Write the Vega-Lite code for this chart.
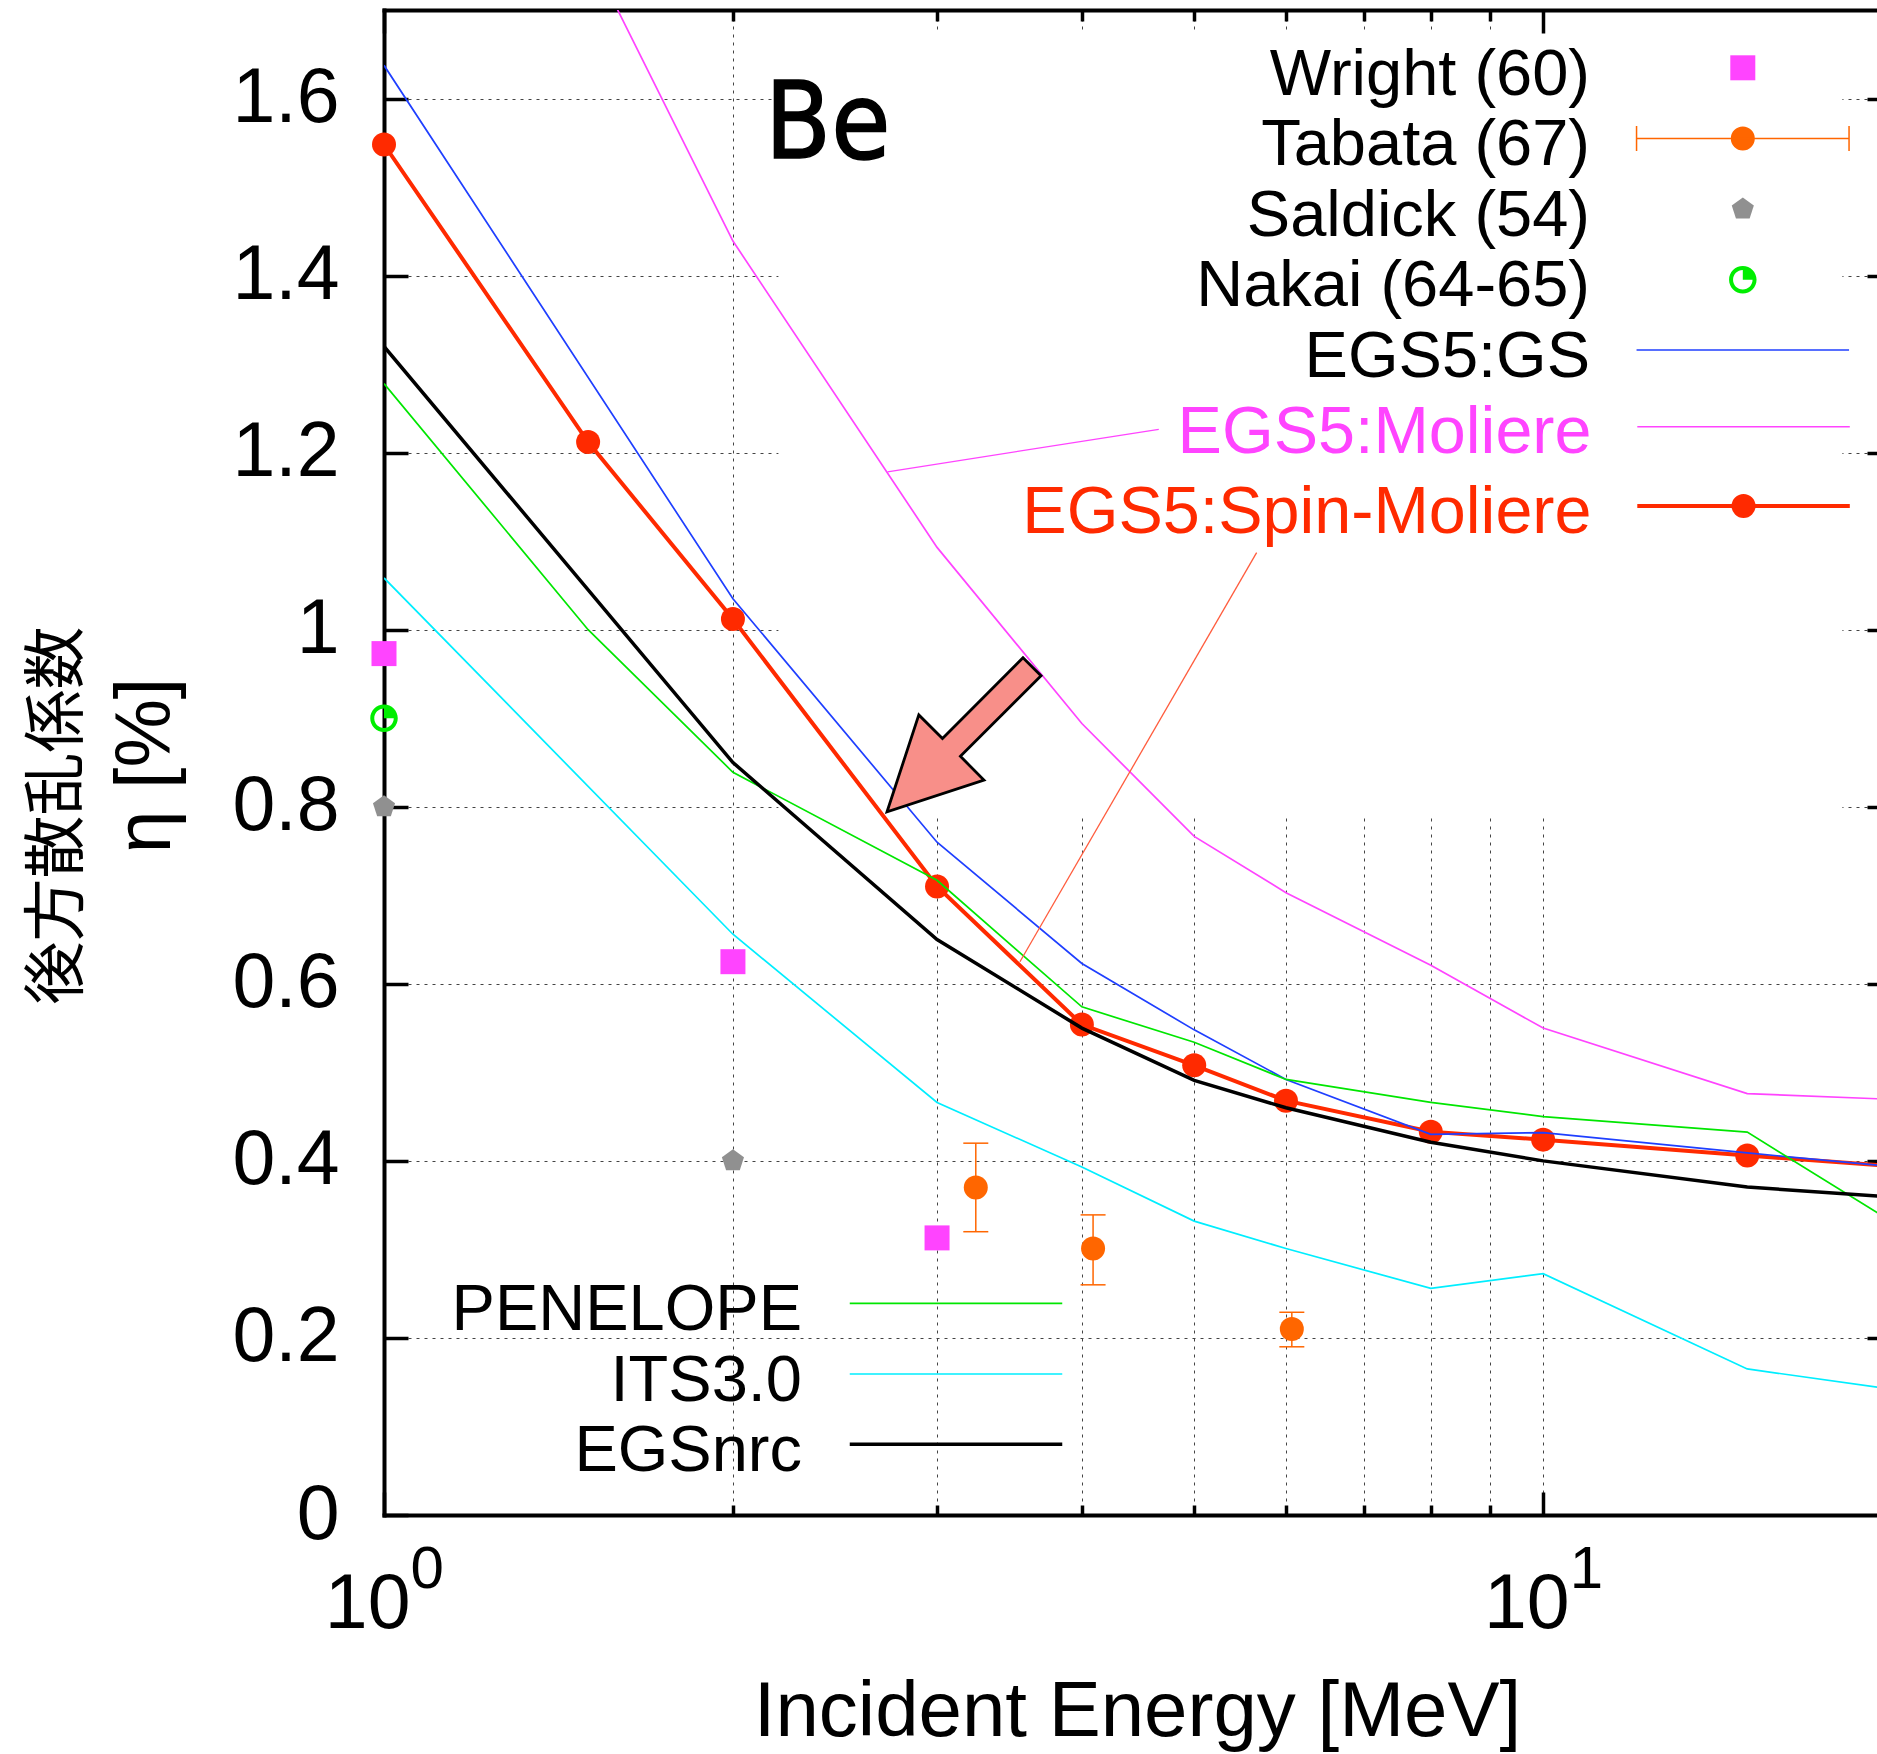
{
  "$schema": "https://vega.github.io/schema/vega-lite/v6.json",
  "width": 1493,
  "height": 1505,
  "autosize": {"type": "none"},
  "padding": {"left": 384, "top": 10, "right": 0, "bottom": 239},
  "background": "white",
  "config": {
    "view": {"stroke": null},
    "axis": {
      "labelFont": "Liberation Sans",
      "titleFont": "Liberation Sans",
      "labelColor": "black",
      "titleColor": "black",
      "titleFontWeight": "normal",
      "tickColor": "black",
      "tickWidth": 3.5,
      "domainColor": "black",
      "domainWidth": 4,
      "domainCap": "square",
      "gridColor": "#444444",
      "gridDash": [3, 5],
      "gridWidth": 1,
      "labelFlush": false,
      "labelOverlap": false
    },
    "legend": {
      "orient": "none",
      "direction": "vertical",
      "padding": 0,
      "rowPadding": 0,
      "labelFont": "Liberation Sans",
      "labelFontSize": 65,
      "labelAlign": "right",
      "labelBaseline": "middle",
      "labelLimit": 2000,
      "symbolSize": 625,
      "symbolOffset": 0
    }
  },
  "datasets": {
    "curves": [
      {"series": "EGS5:GS", "E": 1, "eta": 1.6375},
      {"series": "EGS5:GS", "E": 2, "eta": 1.035},
      {"series": "EGS5:GS", "E": 3, "eta": 0.76},
      {"series": "EGS5:GS", "E": 4, "eta": 0.623},
      {"series": "EGS5:GS", "E": 5, "eta": 0.548},
      {"series": "EGS5:GS", "E": 6, "eta": 0.492},
      {"series": "EGS5:GS", "E": 8, "eta": 0.43},
      {"series": "EGS5:GS", "E": 10, "eta": 0.432},
      {"series": "EGS5:GS", "E": 15, "eta": 0.409},
      {"series": "EGS5:GS", "E": 20, "eta": 0.3935},
      {"series": "EGS5:Moliere", "E": 1.5, "eta": 1.767},
      {"series": "EGS5:Moliere", "E": 2, "eta": 1.439},
      {"series": "EGS5:Moliere", "E": 3, "eta": 1.093},
      {"series": "EGS5:Moliere", "E": 4, "eta": 0.894},
      {"series": "EGS5:Moliere", "E": 5, "eta": 0.7665},
      {"series": "EGS5:Moliere", "E": 6, "eta": 0.703},
      {"series": "EGS5:Moliere", "E": 8, "eta": 0.621},
      {"series": "EGS5:Moliere", "E": 10, "eta": 0.55},
      {"series": "EGS5:Moliere", "E": 15, "eta": 0.476},
      {"series": "EGS5:Moliere", "E": 20, "eta": 0.4695},
      {"series": "EGS5:Spin-Moliere", "E": 1, "eta": 1.548},
      {"series": "EGS5:Spin-Moliere", "E": 1.5, "eta": 1.212},
      {"series": "EGS5:Spin-Moliere", "E": 2, "eta": 1.012},
      {"series": "EGS5:Spin-Moliere", "E": 3, "eta": 0.71},
      {"series": "EGS5:Spin-Moliere", "E": 4, "eta": 0.554},
      {"series": "EGS5:Spin-Moliere", "E": 5, "eta": 0.508},
      {"series": "EGS5:Spin-Moliere", "E": 6, "eta": 0.468},
      {"series": "EGS5:Spin-Moliere", "E": 8, "eta": 0.433},
      {"series": "EGS5:Spin-Moliere", "E": 10, "eta": 0.424},
      {"series": "EGS5:Spin-Moliere", "E": 15, "eta": 0.406},
      {"series": "EGS5:Spin-Moliere", "E": 20, "eta": 0.394},
      {"series": "PENELOPE", "E": 1, "eta": 1.278},
      {"series": "PENELOPE", "E": 1.5, "eta": 1.0},
      {"series": "PENELOPE", "E": 2, "eta": 0.839},
      {"series": "PENELOPE", "E": 3, "eta": 0.717},
      {"series": "PENELOPE", "E": 4, "eta": 0.574},
      {"series": "PENELOPE", "E": 5, "eta": 0.534},
      {"series": "PENELOPE", "E": 6, "eta": 0.492},
      {"series": "PENELOPE", "E": 8, "eta": 0.466},
      {"series": "PENELOPE", "E": 10, "eta": 0.45},
      {"series": "PENELOPE", "E": 15, "eta": 0.4325},
      {"series": "PENELOPE", "E": 20, "eta": 0.331},
      {"series": "ITS3.0", "E": 1, "eta": 1.0585},
      {"series": "ITS3.0", "E": 2, "eta": 0.656},
      {"series": "ITS3.0", "E": 3, "eta": 0.466},
      {"series": "ITS3.0", "E": 4, "eta": 0.393},
      {"series": "ITS3.0", "E": 5, "eta": 0.332},
      {"series": "ITS3.0", "E": 6, "eta": 0.301},
      {"series": "ITS3.0", "E": 8, "eta": 0.256},
      {"series": "ITS3.0", "E": 10, "eta": 0.2726},
      {"series": "ITS3.0", "E": 15, "eta": 0.165},
      {"series": "ITS3.0", "E": 20, "eta": 0.142},
      {"series": "EGSnrc", "E": 1, "eta": 1.32},
      {"series": "EGSnrc", "E": 2, "eta": 0.85},
      {"series": "EGSnrc", "E": 3, "eta": 0.65},
      {"series": "EGSnrc", "E": 4, "eta": 0.55},
      {"series": "EGSnrc", "E": 5, "eta": 0.491},
      {"series": "EGSnrc", "E": 6, "eta": 0.46},
      {"series": "EGSnrc", "E": 8, "eta": 0.421},
      {"series": "EGSnrc", "E": 10, "eta": 0.4},
      {"series": "EGSnrc", "E": 15, "eta": 0.3705},
      {"series": "EGSnrc", "E": 20, "eta": 0.359}
    ],
    "meas": [
      {"series": "Wright (60)", "E": 1, "eta": 0.973},
      {"series": "Wright (60)", "E": 2, "eta": 0.625},
      {"series": "Wright (60)", "E": 3, "eta": 0.313},
      {"series": "Tabata (67)", "E": 3.24, "eta": 0.37, "lo": 0.32, "hi": 0.42},
      {"series": "Tabata (67)", "E": 4.09, "eta": 0.301, "lo": 0.26, "hi": 0.339},
      {"series": "Tabata (67)", "E": 6.07, "eta": 0.21, "lo": 0.19, "hi": 0.229},
      {"series": "Saldick (54)", "E": 1, "eta": 0.8},
      {"series": "Saldick (54)", "E": 2, "eta": 0.4},
      {"series": "Nakai (64-65)", "E": 1, "eta": 0.9}
    ]
  },
  "resolve": {
    "axis": {"x": "independent", "y": "independent"},
    "scale": {"opacity": "independent"},
    "legend": {"opacity": "independent"}
  },
  "layer": [
    {
      "data": {"values": [{}]},
      "mark": {"type": "rect", "fill": "white"},
      "encoding": {
        "x": {"datum": 2.189, "type": "quantitative", "scale": {"type": "log", "domain": [1, 19.41], "nice": false}, "axis": null},
        "x2": {"datum": 18.12},
        "y": {"datum": 1.6729, "type": "quantitative", "scale": {"domain": [0, 1.7], "nice": false, "zero": false}, "axis": null},
        "y2": {"datum": 0.7884}
      }
    },
    {
      "data": {"name": "curves"},
      "transform": [{"filter": "datum.series === 'EGS5:Spin-Moliere'"}],
      "mark": {"type": "line", "color": "#ff2a00", "strokeWidth": 4, "clip": true},
      "encoding": {
        "x": {
          "field": "E", "type": "quantitative",
          "scale": {"type": "log", "domain": [1, 19.41], "nice": false},
          "axis": {
            "orient": "bottom", "values": [1, 10], "labelExpr": "'10'",
            "labels": true, "labelFontSize": 77, "labelAlign": "right", "labelBaseline": "alphabetic",
            "labelOffset": 26, "labelPadding": 112,
            "ticks": false, "tickSize": 0, "domain": true, "grid": false,
            "title": "Incident Energy [MeV]", "titleFontSize": 78, "titleX": 753, "titleY": 220,
            "titleAlign": "center", "titleBaseline": "alphabetic", "titleAngle": 0
          }
        },
        "y": {
          "field": "eta", "type": "quantitative",
          "scale": {"domain": [0, 1.7], "nice": false, "zero": false},
          "axis": {
            "orient": "left", "values": [0, 0.2, 0.4, 0.6, 0.8, 1, 1.2, 1.4, 1.6], "format": "~g",
            "labels": true, "labelFontSize": 77, "labelPadding": 45, "labelBaseline": "middle", "labelAlign": "right",
            "ticks": false, "tickSize": 0, "domain": true, "grid": false,
            "title": "η [%]", "titleFontSize": 77, "titleAngle": 270, "titleX": -237.5, "titleY": 755,
            "titleAlign": "center", "titleBaseline": "middle"
          }
        },
        "opacity": {
          "field": "series", "type": "nominal", "scale": {"type": "ordinal", "range": [1]},
          "legend": {
            "orient": "none", "legendX": 1326.3, "legendY": 469.5, "title": null, "labelOffset": -185.3,
            "labelColor": "#ff2a00", "labelFontSize": 66.5,
            "symbolType": "M-8.5,-0.536H8.5M0.8,-0.536A0.8,0.8 0 1,1 -0.8,-0.536A0.8,0.8 0 1,1 0.8,-0.536Z",
            "symbolFillColor": "#ff2a00", "symbolStrokeColor": "#ff2a00", "symbolStrokeWidth": 4
          }
        }
      }
    },
    {
      "data": {"name": "curves"},
      "transform": [{"filter": "datum.series === 'EGS5:Spin-Moliere'"}],
      "mark": {"type": "point", "shape": "circle", "filled": true, "color": "#ff2a00", "size": 576, "opacity": 1},
      "encoding": {
        "x": {
          "field": "E", "type": "quantitative",
          "scale": {"type": "log", "domain": [1, 19.41], "nice": false},
          "axis": {
            "orient": "bottom", "values": [1, 10], "labelExpr": "datum.value < 5 ? '0' : '1'",
            "labels": true, "labelFontSize": 60, "labelAlign": "left", "labelBaseline": "alphabetic",
            "labelOffset": 26, "labelPadding": 72,
            "ticks": false, "tickSize": 0, "domain": false, "grid": false, "title": null
          }
        },
        "y": {
          "field": "eta", "type": "quantitative",
          "scale": {"domain": [0, 1.7], "nice": false, "zero": false},
          "axis": {
            "orient": "left", "values": [0, 0.2, 0.4, 0.6, 0.8, 1, 1.2, 1.4, 1.6],
            "labels": false, "ticks": true, "tickSize": 24, "offset": -24,
            "domain": false, "grid": false, "title": null
          }
        }
      }
    },
    {
      "data": {"name": "curves"},
      "transform": [{"filter": "datum.series === 'EGS5:GS'"}],
      "mark": {"type": "line", "color": "#1f3fff", "strokeWidth": 1.7, "clip": true},
      "encoding": {
        "x": {
          "field": "E", "type": "quantitative",
          "scale": {"type": "log", "domain": [1, 19.41], "nice": false},
          "axis": {
            "orient": "bottom", "values": [1, 10], "labels": false, "ticks": true,
            "tickSize": 23, "offset": -23, "domain": false, "grid": false, "title": null
          }
        },
        "y": {
          "field": "eta", "type": "quantitative",
          "scale": {"domain": [0, 1.7], "nice": false, "zero": false},
          "axis": {
            "orient": "right", "values": [0.2, 0.4, 0.6, 0.8, 1, 1.2, 1.4, 1.6],
            "labels": false, "ticks": true, "tickSize": 10, "offset": -10,
            "domain": false, "grid": false, "title": null
          }
        },
        "opacity": {
          "field": "series", "type": "nominal", "scale": {"type": "ordinal", "range": [1]},
          "legend": {
            "orient": "none", "legendX": 1326.3, "legendY": 314.2, "title": null, "labelOffset": -185.3,
            "labelColor": "black", "symbolType": "M-8.5,-0.536H8.5",
            "symbolFillColor": "transparent", "symbolStrokeColor": "#1f3fff", "symbolStrokeWidth": 1.7
          }
        }
      }
    },
    {
      "data": {"name": "curves"},
      "transform": [{"filter": "datum.series === 'EGS5:Moliere'"}],
      "mark": {"type": "line", "color": "#ff44ff", "strokeWidth": 1.7, "clip": true},
      "encoding": {
        "x": {
          "field": "E", "type": "quantitative",
          "scale": {"type": "log", "domain": [1, 19.41], "nice": false},
          "axis": {
            "orient": "bottom", "values": [2, 3, 4, 5, 6, 7, 8, 9], "labels": false, "ticks": true,
            "tickSize": 10, "offset": -10, "domain": false, "grid": false, "title": null
          }
        },
        "y": {
          "field": "eta", "type": "quantitative",
          "scale": {"domain": [0, 1.7], "nice": false, "zero": false},
          "axis": {
            "orient": "left", "labels": false, "ticks": false, "domain": false, "grid": false,
            "title": "後方散乱係数", "titleFont": "Noto Sans CJK JP", "titleFontSize": 63,
            "titleAngle": 270, "titleX": -326.5, "titleY": 805, "titleAlign": "center", "titleBaseline": "middle"
          }
        },
        "opacity": {
          "field": "series", "type": "nominal", "scale": {"type": "ordinal", "range": [1]},
          "legend": {
            "orient": "none", "legendX": 1326.3, "legendY": 390.2, "title": null, "labelOffset": -185.3,
            "labelColor": "#ff44ff", "labelFontSize": 66.5, "symbolType": "M-8.5,-0.536H8.5",
            "symbolFillColor": "transparent", "symbolStrokeColor": "#ff44ff", "symbolStrokeWidth": 1.7
          }
        }
      }
    },
    {
      "data": {"name": "curves"},
      "transform": [{"filter": "datum.series === 'PENELOPE'"}],
      "mark": {"type": "line", "color": "#00e600", "strokeWidth": 1.7, "clip": true},
      "encoding": {
        "x": {
          "field": "E", "type": "quantitative",
          "scale": {"type": "log", "domain": [1, 19.41], "nice": false},
          "axis": {"orient": "top", "labels": false, "ticks": false, "domain": true, "grid": false, "title": null}
        },
        "y": {
          "field": "eta", "type": "quantitative",
          "scale": {"domain": [0, 1.7], "nice": false, "zero": false},
          "axis": {
            "orient": "left", "values": [0.2, 0.4, 0.6, 0.8, 1, 1.2, 1.4, 1.6],
            "labels": false, "ticks": false, "domain": false, "grid": true, "title": null
          }
        },
        "opacity": {
          "field": "series", "type": "nominal", "scale": {"type": "ordinal", "range": [1]},
          "legend": {
            "orient": "none", "legendX": 539.5, "legendY": 1267.5, "title": null, "labelOffset": -186.5,
            "labelColor": "black", "symbolType": "M-8.5,-0.536H8.5",
            "symbolFillColor": "transparent", "symbolStrokeColor": "#00e600", "symbolStrokeWidth": 1.7
          }
        }
      }
    },
    {
      "data": {"name": "curves"},
      "transform": [{"filter": "datum.series === 'ITS3.0'"}],
      "mark": {"type": "line", "color": "#00eeff", "strokeWidth": 1.7, "clip": true},
      "encoding": {
        "x": {
          "field": "E", "type": "quantitative",
          "scale": {"type": "log", "domain": [1, 19.41], "nice": false},
          "axis": {
            "orient": "top", "values": [2, 3, 4, 5, 6, 7, 8, 9], "labels": false, "ticks": true,
            "tickSize": 11, "offset": -11, "domain": false, "grid": false, "title": null
          }
        },
        "y": {"field": "eta", "type": "quantitative", "scale": {"domain": [0, 1.7], "nice": false, "zero": false}, "axis": null},
        "opacity": {
          "field": "series", "type": "nominal", "scale": {"type": "ordinal", "range": [1]},
          "legend": {
            "orient": "none", "legendX": 539.5, "legendY": 1338.2, "title": null, "labelOffset": -186.5,
            "labelColor": "black", "symbolType": "M-8.5,-0.536H8.5",
            "symbolFillColor": "transparent", "symbolStrokeColor": "#00eeff", "symbolStrokeWidth": 1.7
          }
        }
      }
    },
    {
      "data": {"name": "curves"},
      "transform": [{"filter": "datum.series === 'EGSnrc'"}],
      "mark": {"type": "line", "color": "#000000", "strokeWidth": 3.5, "clip": true},
      "encoding": {
        "x": {
          "field": "E", "type": "quantitative",
          "scale": {"type": "log", "domain": [1, 19.41], "nice": false},
          "axis": {
            "orient": "top", "values": [1, 10], "labels": false, "ticks": true,
            "tickSize": 23, "offset": -23, "domain": false, "grid": false, "title": null
          }
        },
        "y": {"field": "eta", "type": "quantitative", "scale": {"domain": [0, 1.7], "nice": false, "zero": false}, "axis": null},
        "opacity": {
          "field": "series", "type": "nominal", "scale": {"type": "ordinal", "range": [1]},
          "legend": {
            "orient": "none", "legendX": 539.5, "legendY": 1408.5, "title": null, "labelOffset": -186.5,
            "labelColor": "black", "symbolType": "M-8.5,-0.536H8.5",
            "symbolFillColor": "transparent", "symbolStrokeColor": "#000000", "symbolStrokeWidth": 3.5
          }
        }
      }
    },
    {
      "data": {"name": "meas"},
      "transform": [{"filter": "datum.series === 'Wright (60)'"}],
      "mark": {"type": "point", "shape": "square", "filled": true, "color": "#ff44ff", "size": 625, "opacity": 1},
      "encoding": {
        "x": {
          "field": "E", "type": "quantitative",
          "scale": {"type": "log", "domain": [1, 19.41], "nice": false},
          "axis": {
            "orient": "bottom", "values": [2, 3, 4, 5, 6, 7, 8, 9, 10], "labels": false, "ticks": false,
            "domain": false, "grid": true, "title": null
          }
        },
        "y": {"field": "eta", "type": "quantitative", "scale": {"domain": [0, 1.7], "nice": false, "zero": false}, "axis": null},
        "opacity": {
          "field": "series", "type": "nominal", "scale": {"type": "ordinal", "range": [1]},
          "legend": {
            "orient": "none", "legendX": 1326.3, "legendY": 32.0, "title": null, "labelOffset": -185.3,
            "labelColor": "black", "symbolType": "M-1,-1.536H1V0.464H-1Z",
            "symbolFillColor": "#ff44ff", "symbolStrokeColor": "transparent", "symbolStrokeWidth": 0
          }
        }
      }
    },
    {
      "data": {"name": "meas"},
      "transform": [{"filter": "datum.series === 'Saldick (54)'"}],
      "mark": {"type": "point", "shape": "M0,-0.93L0.884,-0.287L0.547,0.752L-0.547,0.752L-0.884,-0.287Z", "filled": true, "color": "#909090", "size": 625, "opacity": 1},
      "encoding": {
        "x": {"field": "E", "type": "quantitative", "scale": {"type": "log", "domain": [1, 19.41], "nice": false}, "axis": null},
        "y": {"field": "eta", "type": "quantitative", "scale": {"domain": [0, 1.7], "nice": false, "zero": false}, "axis": null},
        "opacity": {
          "field": "series", "type": "nominal", "scale": {"type": "ordinal", "range": [1]},
          "legend": {
            "orient": "none", "legendX": 1326.3, "legendY": 173.2, "title": null, "labelOffset": -185.3,
            "labelColor": "black", "symbolType": "M0,-1.466L0.884,-0.823L0.547,0.216L-0.547,0.216L-0.884,-0.823Z",
            "symbolFillColor": "#909090", "symbolStrokeColor": "transparent", "symbolStrokeWidth": 0
          }
        }
      }
    },
    {
      "data": {"name": "meas"},
      "transform": [{"filter": "datum.series === 'Nakai (64-65)'"}],
      "mark": {"type": "point", "shape": "M0,-1.1A1.1,1.1 0 1,1 0,1.1A1.1,1.1 0 1,1 0,-1.1ZM0,-0.78A0.78,0.78 0 1,0 0,0.78A0.78,0.78 0 1,0 0,-0.78ZM0,0L0,-0.78A0.78,0.78 0 0,1 0.78,0Z", "filled": true, "color": "#00ee00", "size": 625, "opacity": 1},
      "encoding": {
        "x": {"field": "E", "type": "quantitative", "scale": {"type": "log", "domain": [1, 19.41], "nice": false}, "axis": null},
        "y": {"field": "eta", "type": "quantitative", "scale": {"domain": [0, 1.7], "nice": false, "zero": false}, "axis": null},
        "opacity": {
          "field": "series", "type": "nominal", "scale": {"type": "ordinal", "range": [1]},
          "legend": {
            "orient": "none", "legendX": 1326.3, "legendY": 243.9, "title": null, "labelOffset": -185.3,
            "labelColor": "black",
            "symbolType": "M0,-1.636A1.1,1.1 0 1,1 0,0.564A1.1,1.1 0 1,1 0,-1.636ZM0,-1.316A0.78,0.78 0 1,0 0,0.244A0.78,0.78 0 1,0 0,-1.316ZM0,-0.536L0,-1.316A0.78,0.78 0 0,1 0.78,-0.536Z",
            "symbolFillColor": "#00ee00", "symbolStrokeColor": "transparent", "symbolStrokeWidth": 0
          }
        }
      }
    },
    {
      "data": {"name": "meas"},
      "transform": [{"filter": "datum.series === 'Tabata (67)'"}],
      "mark": {"type": "rule", "color": "#ff6600", "strokeWidth": 1.5},
      "encoding": {
        "x": {"field": "E", "type": "quantitative", "scale": {"type": "log", "domain": [1, 19.41], "nice": false}, "axis": null},
        "y": {"field": "lo", "type": "quantitative", "scale": {"domain": [0, 1.7], "nice": false, "zero": false}, "axis": null},
        "y2": {"field": "hi"},
        "opacity": {
          "field": "series", "type": "nominal", "scale": {"type": "ordinal", "range": [1]},
          "legend": {
            "orient": "none", "legendX": 1326.3, "legendY": 102.7, "title": null, "labelOffset": -185.3,
            "labelColor": "black",
            "symbolType": "M-8.5,-0.536H8.5M-8.5,-1.536V0.464M8.5,-1.536V0.464M0.9,-0.536A0.9,0.9 0 1,1 -0.9,-0.536A0.9,0.9 0 1,1 0.9,-0.536Z",
            "symbolFillColor": "#ff6600", "symbolStrokeColor": "#ff6600", "symbolStrokeWidth": 1.5
          }
        }
      }
    },
    {
      "data": {"name": "meas"},
      "transform": [{"filter": "datum.series === 'Tabata (67)'"}],
      "mark": {"type": "tick", "orient": "horizontal", "color": "#ff6600", "size": 25, "thickness": 1.5, "opacity": 1},
      "encoding": {
        "x": {"field": "E", "type": "quantitative", "scale": {"type": "log", "domain": [1, 19.41], "nice": false}, "axis": null},
        "y": {"field": "lo", "type": "quantitative", "scale": {"domain": [0, 1.7], "nice": false, "zero": false}, "axis": null}
      }
    },
    {
      "data": {"name": "meas"},
      "transform": [{"filter": "datum.series === 'Tabata (67)'"}],
      "mark": {"type": "tick", "orient": "horizontal", "color": "#ff6600", "size": 25, "thickness": 1.5, "opacity": 1},
      "encoding": {
        "x": {"field": "E", "type": "quantitative", "scale": {"type": "log", "domain": [1, 19.41], "nice": false}, "axis": null},
        "y": {"field": "hi", "type": "quantitative", "scale": {"domain": [0, 1.7], "nice": false, "zero": false}, "axis": null}
      }
    },
    {
      "data": {"name": "meas"},
      "transform": [{"filter": "datum.series === 'Tabata (67)'"}],
      "mark": {"type": "point", "shape": "circle", "filled": true, "color": "#ff6600", "size": 576, "opacity": 1},
      "encoding": {
        "x": {"field": "E", "type": "quantitative", "scale": {"type": "log", "domain": [1, 19.41], "nice": false}, "axis": null},
        "y": {"field": "eta", "type": "quantitative", "scale": {"domain": [0, 1.7], "nice": false, "zero": false}, "axis": null}
      }
    },
    {
      "data": {"values": [{}]},
      "mark": {"type": "rule", "color": "#ff44ff", "strokeWidth": 1.3},
      "encoding": {
        "x": {"datum": 2.719, "type": "quantitative", "scale": {"type": "log", "domain": [1, 19.41], "nice": false}, "axis": null},
        "y": {"datum": 1.1784, "type": "quantitative", "scale": {"domain": [0, 1.7], "nice": false, "zero": false}, "axis": null},
        "x2": {"datum": 4.66},
        "y2": {"datum": 1.2264}
      }
    },
    {
      "data": {"values": [{}]},
      "mark": {"type": "rule", "color": "#ff5c3d", "strokeWidth": 1.3},
      "encoding": {
        "x": {"datum": 5.66, "type": "quantitative", "scale": {"type": "log", "domain": [1, 19.41], "nice": false}, "axis": null},
        "y": {"datum": 1.087, "type": "quantitative", "scale": {"domain": [0, 1.7], "nice": false, "zero": false}, "axis": null},
        "x2": {"datum": 3.537},
        "y2": {"datum": 0.6249}
      }
    },
    {
      "data": {"values": [{}]},
      "mark": {
        "type": "point",
        "shape": "M-0.659,0.659L-0.37,-0.222L-0.155,-0.008L0.577,-0.741L0.741,-0.577L0.008,0.155L0.222,0.37Z",
        "size": 48400, "filled": true, "fill": "#f88f89", "stroke": "black", "strokeWidth": 2.8, "opacity": 1
      },
      "encoding": {
        "x": {"datum": 3.137, "type": "quantitative", "scale": {"type": "log", "domain": [1, 19.41], "nice": false}, "axis": null},
        "y": {"datum": 0.8762, "type": "quantitative", "scale": {"domain": [0, 1.7], "nice": false, "zero": false}, "axis": null}
      }
    },
    {
      "data": {"values": [{}]},
      "mark": {
        "type": "text", "text": "Be", "font": "DejaVu Sans Condensed, DejaVu Sans", "fontSize": 107,
        "align": "left", "baseline": "alphabetic", "color": "black", "stroke": "black", "strokeWidth": 1.5
      },
      "encoding": {
        "x": {"datum": 2.132, "type": "quantitative", "scale": {"type": "log", "domain": [1, 19.41], "nice": false}, "axis": null},
        "y": {"datum": 1.5323, "type": "quantitative", "scale": {"domain": [0, 1.7], "nice": false, "zero": false}, "axis": null}
      }
    }
  ]
}
